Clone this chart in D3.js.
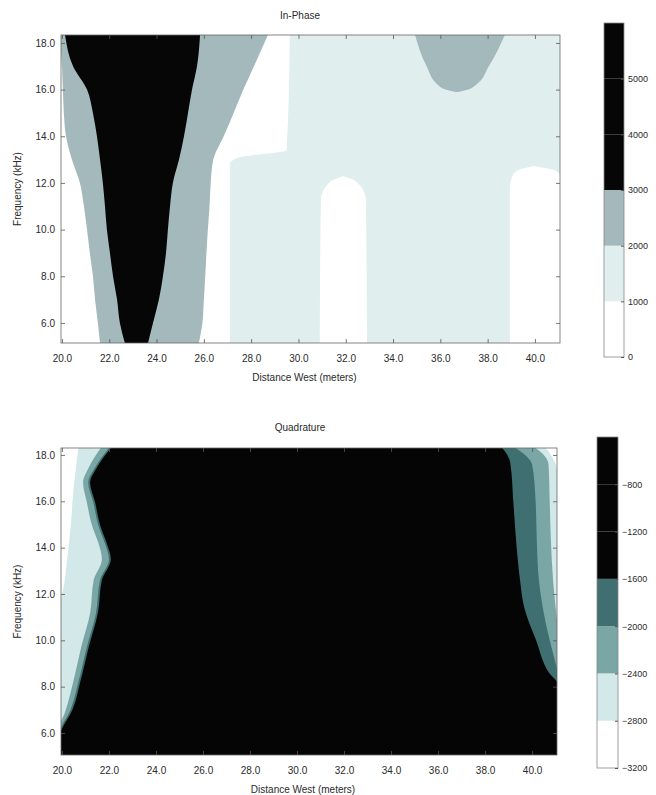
<!DOCTYPE html>
<html>
<head>
<meta charset="utf-8">
<script src="https://cdn.jsdelivr.net/npm/d3@7"></script>
<style>
  body { margin: 0; background: #fff; }
  text { font-family: "Liberation Sans", Arial, sans-serif; fill: #2a2a2a; }
</style>
</head>
<body>
<svg id="chart" width="656" height="795"></svg>
<script>
// ---- values ----
const xDomain = [19.96, 41.06];              // Distance West (m)
const xTicks = [20, 22, 24, 26, 28, 30, 32, 34, 36, 38, 40];
const yTicks = [6, 8, 10, 12, 14, 16, 18];   // Frequency (kHz)

// In-Phase : contour levels + colours
const ipLevels = [0, 1000, 2000, 3000, 4000, 5000, 6000];
const ipColors = ['#ffffff', '#e1eeee', '#a3b9bb', '#060606', '#060606', '#060606'];
const ipTickVals = [0, 1000, 2000, 3000, 4000, 5000];

// In-Phase contour positions (x in m) per frequency row
const ipFreq = [5.14, 6, 7, 8, 9, 10, 11, 12, 13, 14, 15, 16, 17, 18.34];
const ip3000Left  = [22.66, 22.45, 22.33, 22.16, 22.03, 21.9, 21.82, 21.73, 21.61, 21.48, 21.31, 21.06, 20.47, 20.13];
const ip3000Right = [23.64, 23.85, 24.1, 24.27, 24.4, 24.48, 24.57, 24.69, 24.95, 25.16, 25.33, 25.5, 25.71, 25.84];
const ip2000Left  = [21.61, 21.52, 21.4, 21.31, 21.18, 21.06, 20.93, 20.76, 20.42, 20.17, 20.08, 20.04, 20.0, 19.9];
const ip2000Right = [25.79, 25.94, 26.0, 26.06, 26.11, 26.17, 26.24, 26.29, 26.4, 26.84, 27.26, 27.67, 28.12, 28.71];
// 1000 contour, west edge of the light region
const ip1000Freq = [5.14, 12.8, 13.1, 13.4, 18.34];
const ip1000Left = [27.1, 27.1, 27.5, 29.5, 29.64];
// low pockets (< 1000)
const ipPocketAFreq  = [5.14, 11.3, 11.9, 12.15, 12.3];
const ipPocketALeft  = [30.9, 30.95, 31.2, 31.5, 31.9];
const ipPocketARight = [32.9, 32.85, 32.6, 32.3, 31.9];
const ipPocketBFreq  = [5.14, 11.8, 12.3, 12.55, 12.72];
const ipPocketBLeft  = [38.94, 38.94, 39.05, 39.3, 39.9];
const ipPocketBRight = [41.2, 41.2, 41.1, 40.8, 40.0];
// high lobe near 36-38 m (2000-3000)
const ipLobeFreq  = [15.9, 15.98, 16.2, 17.0, 18.34];
const ipLobeLeft  = [36.65, 36.3, 35.9, 35.42, 34.93];
const ipLobeRight = [36.75, 37.1, 37.5, 38.05, 38.73];

// Quadrature : contour levels + colours
const qLevels = [-3200, -2800, -2400, -2000, -1600, -1200, -800, -400];
const qColors = ['#ffffff', '#d3e8e8', '#7ba6a6', '#3f6f70', '#050505', '#050505', '#050505'];
const qTickVals = [-3200, -2800, -2400, -2000, -1600, -1200, -800];

// Quadrature west side contours
const qLeftFreq  = [5.05, 5.9, 6.26, 6.86, 8.29, 9.71, 11.18, 12.6, 13.5, 14.2, 14.89, 16.0, 16.8, 17.48, 18.3];
const q1600Left  = [19.9, 19.9, 20.04, 20.38, 20.8, 21.14, 21.53, 21.7, 22.08, 21.9, 21.65, 21.4, 21.2, 21.5, 22.08];
const q2000Left  = [19.9, 19.9, 19.98, 20.3, 20.72, 21.06, 21.45, 21.62, 22.0, 21.82, 21.57, 21.32, 21.12, 21.42, 22.0];
const q2400Left  = [19.9, 19.9, 19.9, 20.12, 20.5, 20.82, 21.2, 21.35, 21.7, 21.55, 21.3, 21.05, 20.9, 21.15, 21.65];
const q2800Left  = [19.9, 19.9, 19.9, 19.9, 19.9, 19.9, 19.9, 20.12, 20.22, 20.3, 20.37, 20.45, 20.52, 20.6, 20.7];
// Quadrature east side contours
const qRightFreq = [5.05, 8.1, 8.6, 10.0, 11.44, 12.5, 14.3, 16.0, 17.6, 18.0, 18.3];
const q1600Right = [41.2, 41.1, 40.72, 40.17, 39.66, 39.5, 39.32, 39.2, 39.08, 38.95, 38.73];
const q2000Right = [41.2, 41.2, 41.1, 40.75, 40.45, 40.3, 40.2, 40.15, 40.0, 39.7, 39.3];
const q2400Right = [41.2, 41.2, 41.2, 41.15, 41.0, 40.9, 40.8, 40.75, 40.7, 40.5, 40.15];
const q2800Right = [41.2, 41.2, 41.2, 41.2, 41.2, 41.2, 41.2, 41.2, 41.0, 40.8, 40.6];

const svg = d3.select('#chart');
const fmt1 = d3.format('.1f');
let clipCount = 0;

// band between two contour lines (null = past the plot edge)
function spanPath(x, y, freqs, lo, hi) {
  const [r0, r1] = x.range();
  return d3.area()
    .curve(d3.curveMonotoneY)
    .y(d => y(d))
    .x0((d, i) => lo ? x(lo[i]) : r0 - 6)
    .x1((d, i) => hi ? x(hi[i]) : r1 + 6)(freqs);
}

function makePanel(cfg) {
  const x = d3.scaleLinear().domain(xDomain).range([cfg.left, cfg.right]);
  const y = d3.scaleLinear().domain(cfg.yDomain).range([cfg.bottom, cfg.top]);
  const g = svg.append('g');
  const id = 'clip' + (clipCount++);
  g.append('clipPath').attr('id', id).append('rect')
    .attr('x', cfg.left).attr('y', cfg.top)
    .attr('width', cfg.right - cfg.left).attr('height', cfg.bottom - cfg.top);
  const fills = g.append('g').attr('clip-path', `url(#${id})`);
  fills.append('rect')
    .attr('x', cfg.left).attr('y', cfg.top)
    .attr('width', cfg.right - cfg.left).attr('height', cfg.bottom - cfg.top)
    .attr('fill', cfg.background);
  return { x, y, g, fills, cfg };
}

function addLayer(p, freqs, lo, hi, color) {
  p.fills.append('path').attr('d', spanPath(p.x, p.y, freqs, lo, hi)).attr('fill', color);
}

function drawAxes(p) {
  const { x, y, g, cfg } = p;
  const ax = g.append('g').attr('class', 'axes');
  // bottom / left with labels, ticks pointing inward
  ax.append('g').attr('transform', `translate(0,${cfg.bottom})`)
    .call(d3.axisBottom(x).tickValues(xTicks).tickFormat(fmt1).tickSizeInner(-4).tickSizeOuter(0).tickPadding(12));
  ax.append('g').attr('transform', `translate(${cfg.left},0)`)
    .call(d3.axisLeft(y).tickValues(yTicks).tickFormat(fmt1).tickSizeInner(-4).tickSizeOuter(0).tickPadding(6));
  ax.append('g').attr('transform', `translate(0,${cfg.top})`)
    .call(d3.axisTop(x).tickValues(xTicks).tickFormat('').tickSizeInner(-4).tickSizeOuter(0));
  ax.append('g').attr('transform', `translate(${cfg.right},0)`)
    .call(d3.axisRight(y).tickValues(yTicks).tickFormat('').tickSizeInner(-4).tickSizeOuter(0));
  ax.selectAll('.domain').remove();
  ax.selectAll('.tick line').attr('stroke', '#555').attr('stroke-width', 0.8);
  ax.selectAll('.tick text').attr('font-size', 10).attr('fill', '#2a2a2a')
    .attr('font-family', '"Liberation Sans", Arial, sans-serif');
  g.append('rect')
    .attr('x', cfg.left).attr('y', cfg.top)
    .attr('width', cfg.right - cfg.left).attr('height', cfg.bottom - cfg.top)
    .attr('fill', 'none').attr('stroke', '#666').attr('stroke-width', 0.8);

  g.append('text').attr('x', cfg.titleX).attr('y', cfg.titleY)
    .attr('text-anchor', 'middle').attr('font-size', 10).text(cfg.title);
  g.append('text').attr('x', (cfg.left + cfg.right) / 2 - 6).attr('y', cfg.bottom + 38)
    .attr('text-anchor', 'middle').attr('font-size', 10).text('Distance West (meters)');
  g.append('text')
    .attr('transform', `translate(21,${(cfg.top + cfg.bottom) / 2}) rotate(-90)`)
    .attr('text-anchor', 'middle').attr('font-size', 10).text('Frequency (kHz)');
}

function drawColorbar(cb) {
  const s = d3.scaleLinear().domain([cb.levels[0], cb.levels[cb.levels.length - 1]]).range([cb.y1, cb.y0]);
  const g = svg.append('g');
  g.selectAll('rect.band').data(d3.pairs(cb.levels)).join('rect')
    .attr('class', 'band')
    .attr('x', cb.x).attr('width', cb.w)
    .attr('y', d => s(d[1])).attr('height', d => s(d[0]) - s(d[1]))
    .attr('fill', (d, i) => cb.colors[i]);
  g.append('rect').attr('x', cb.x).attr('y', cb.y0).attr('width', cb.w).attr('height', cb.y1 - cb.y0)
    .attr('fill', 'none').attr('stroke', '#888').attr('stroke-width', 0.8);
  const axis = g.append('g').attr('transform', `translate(${cb.x + cb.w},0)`)
    .call(d3.axisRight(s).tickValues(cb.ticks).tickFormat(d3.format('d')).tickSizeInner(-3).tickSizeOuter(0).tickPadding(4));
  axis.select('.domain').remove();
  axis.selectAll('.tick line').attr('stroke', '#555');
  axis.selectAll('.tick text').attr('font-size', 9).attr('fill', '#2a2a2a')
    .attr('font-family', '"Liberation Sans", Arial, sans-serif');
}

// ---- In-Phase panel ----
const ip = makePanel({ left: 61, right: 560, top: 35, bottom: 343, yDomain: [5.14, 18.34],
  background: ipColors[0], title: 'In-Phase', titleX: 300, titleY: 19 });
addLayer(ip, ip1000Freq, ip1000Left, null, ipColors[1]);
addLayer(ip, ipPocketAFreq, ipPocketALeft, ipPocketARight, ipColors[0]);
addLayer(ip, ipPocketBFreq, ipPocketBLeft, ipPocketBRight, ipColors[0]);
addLayer(ip, ipFreq, ip2000Left, ip2000Right, ipColors[2]);
addLayer(ip, ipFreq, ip3000Left, ip3000Right, ipColors[3]);
addLayer(ip, ipLobeFreq, ipLobeLeft, ipLobeRight, ipColors[2]);
drawAxes(ip);

// ---- Quadrature panel ----
const q = makePanel({ left: 61, right: 557, top: 448, bottom: 755, yDomain: [5.05, 18.3],
  background: qColors[4], title: 'Quadrature', titleX: 300, titleY: 431 });
addLayer(q, qLeftFreq, null, q1600Left, qColors[3]);
addLayer(q, qLeftFreq, null, q2000Left, qColors[2]);
addLayer(q, qLeftFreq, null, q2400Left, qColors[1]);
addLayer(q, qLeftFreq, null, q2800Left, qColors[0]);
addLayer(q, qRightFreq, q1600Right, null, qColors[3]);
addLayer(q, qRightFreq, q2000Right, null, qColors[2]);
addLayer(q, qRightFreq, q2400Right, null, qColors[1]);
addLayer(q, qRightFreq, q2800Right, null, qColors[0]);
drawAxes(q);

// ---- colour bars ----
drawColorbar({ x: 604, w: 20, y0: 23, y1: 357, levels: ipLevels, colors: ipColors, ticks: ipTickVals });
drawColorbar({ x: 597, w: 21, y0: 437, y1: 768, levels: qLevels, colors: qColors, ticks: qTickVals });
</script>
</body>
</html>
